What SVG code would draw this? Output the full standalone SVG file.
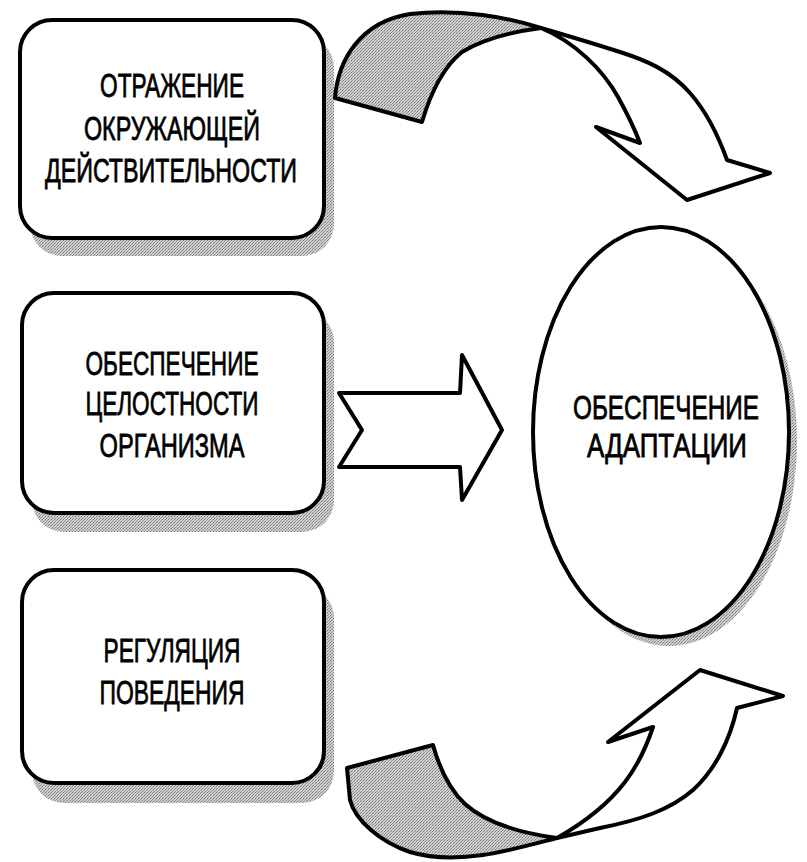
<svg xmlns="http://www.w3.org/2000/svg" width="807" height="862" viewBox="0 0 807 862">
<defs>
<pattern id="dots" width="3" height="3" patternUnits="userSpaceOnUse">
<rect width="3" height="3" fill="#d0d0d0"/>
<rect width="1" height="1" fill="#777"/>
<rect x="2" y="1" width="1" height="1" fill="#999"/>
<rect x="1" y="2" width="1" height="1" fill="#888"/>
</pattern>
</defs>
<style>
.box{fill:#fff;stroke:#000;stroke-width:4}
.shadow{fill:url(#dots);stroke:none}
.t{font-family:"Liberation Sans",Arial,sans-serif;font-size:34px;fill:#000;text-anchor:middle;stroke:#000;stroke-width:0.8}
.arr{fill:#fff;stroke:#000;stroke-width:4;stroke-linejoin:round}
.back{fill:url(#dots);stroke:#000;stroke-width:4;stroke-linejoin:round}
</style>
<rect width="807" height="862" fill="#fff"/>
<g id="node-reflection">
<rect class="shadow" x="30" y="36" width="304" height="220" rx="32"/>
<rect class="box" x="20" y="20" width="304" height="218" rx="32"/>
<text class="t" x="172" y="97" textLength="144" lengthAdjust="spacingAndGlyphs">ОТРАЖЕНИЕ</text>
<text class="t" x="172" y="140" textLength="176" lengthAdjust="spacingAndGlyphs">ОКРУЖАЮЩЕЙ</text>
<text class="t" x="171" y="182" textLength="252" lengthAdjust="spacingAndGlyphs">ДЕЙСТВИТЕЛЬНОСТИ</text>
</g>
<g id="node-integrity">
<rect class="shadow" x="32" y="310" width="302" height="222" rx="32"/>
<rect class="box" x="22" y="293" width="302" height="220" rx="32"/>
<text class="t" x="172" y="375" textLength="173" lengthAdjust="spacingAndGlyphs">ОБЕСПЕЧЕНИЕ</text>
<text class="t" x="172" y="415" textLength="173" lengthAdjust="spacingAndGlyphs">ЦЕЛОСТНОСТИ</text>
<text class="t" x="172" y="457" textLength="145" lengthAdjust="spacingAndGlyphs">ОРГАНИЗМА</text>
</g>
<g id="node-regulation">
<rect class="shadow" x="32" y="586" width="302" height="217" rx="32"/>
<rect class="box" x="22" y="570" width="302" height="213" rx="32"/>
<text class="t" x="172" y="662" textLength="137" lengthAdjust="spacingAndGlyphs">РЕГУЛЯЦИЯ</text>
<text class="t" x="172" y="704" textLength="145" lengthAdjust="spacingAndGlyphs">ПОВЕДЕНИЯ</text>
</g>
<g id="node-adaptation">
<ellipse class="shadow" cx="669" cy="441" rx="128" ry="205"/>
<ellipse class="box" cx="661" cy="432" rx="128" ry="205"/>
<text class="t" x="666" y="419" textLength="186" lengthAdjust="spacingAndGlyphs">ОБЕСПЕЧЕНИЕ</text>
<text class="t" x="667" y="457" textLength="160" lengthAdjust="spacingAndGlyphs">АДАПТАЦИИ</text>
</g>
<g id="connectors">
<path class="back" d="M335,98 C338,60 360,22 410,14 C460,8 510,18 541,28 C510,32 482,40 462,52 C442,68 430,95 422,122 Z"/>
<path class="arr" d="M541,28 C575,42 603,70 618,97 C628,115 635,130 640,143 L596,127 L687,200 L770,173 L727,160 C718,135 705,110 690,93 C670,70 645,60 620,52 C595,44 565,35 541,28 Z"/>
<path class="arr" d="M339,393 L460,393 L462,355 L502,430 L462,500 L460,467 L339,467 L362,430 Z"/>
<path class="back" d="M347,768 L433,745 C440,770 450,790 465,804 C485,822 520,833 557,838 C530,845 505,852 483,855 C455,859 430,858 410,852 C380,842 355,820 350,800 Z"/>
<path class="arr" d="M557,838 C580,825 605,808 625,782 C638,765 647,745 653,727 L608,742 L700,670 L783,696 L737,708 C730,740 715,770 693,790 C670,810 640,820 600,828 Z"/>
</g>
</svg>
